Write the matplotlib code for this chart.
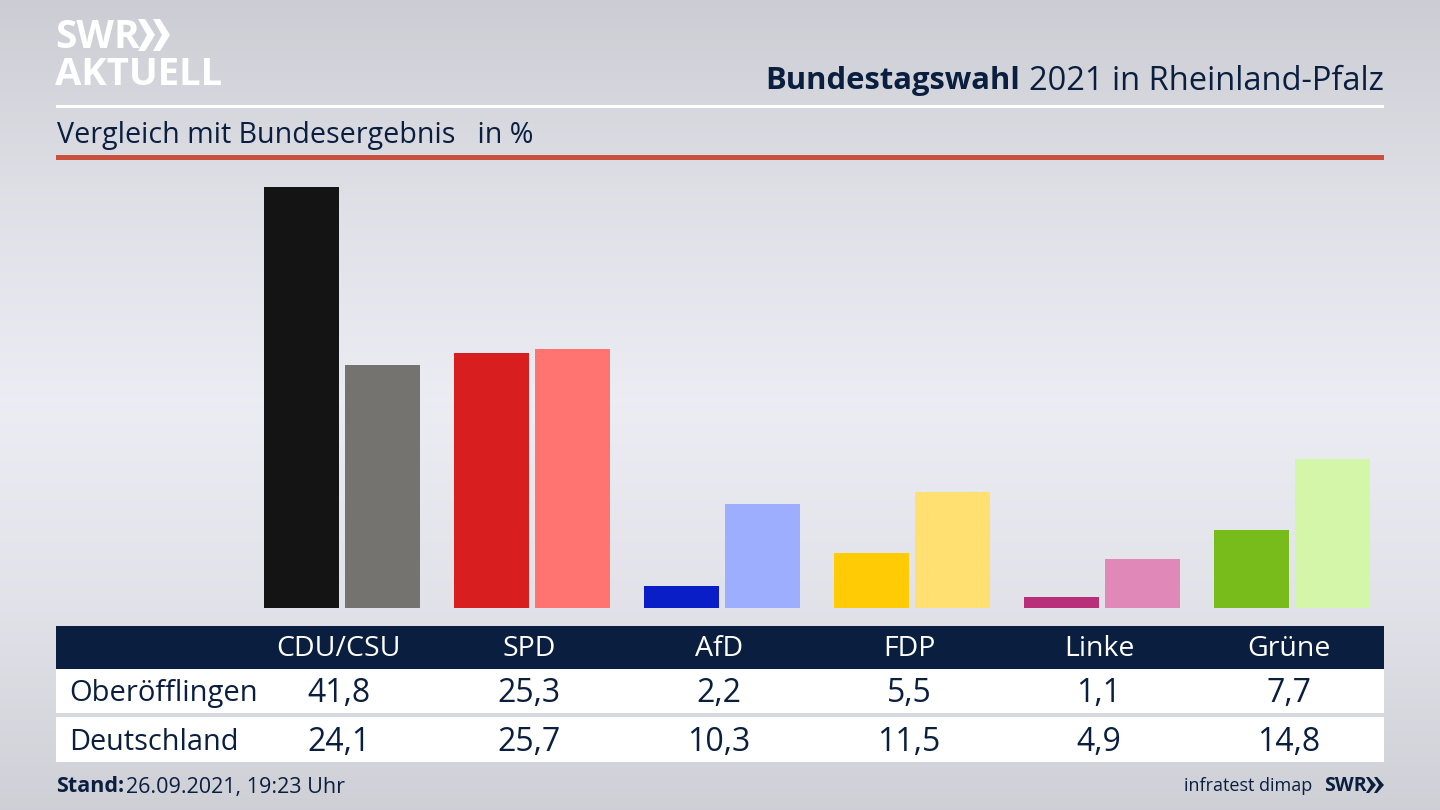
import numpy as np
import matplotlib
matplotlib.use("Agg")
import matplotlib.pyplot as plt
from matplotlib.patches import Polygon, Rectangle

plt.rcParams["font.family"] = ["Open Sans", "DejaVu Sans"]

parties = ["CDU/CSU", "SPD", "AfD", "FDP", "Linke", "Grüne"]
region_name = "Oberöfflingen"
country_name = "Deutschland"
region_values = [41.8, 25.3, 2.2, 5.5, 1.1, 7.7]
country_values = [24.1, 25.7, 10.3, 11.5, 4.9, 14.8]
region_colors = ["#141414", "#d81e1e", "#0a1ec8", "#ffcb05", "#b82e78", "#78bc1c"]
country_colors = ["#74736f", "#ff7470", "#9eaeff", "#ffe070", "#e088b8", "#d4f6a8"]

navy = "#0a1f3f"
W, H = 1440, 810

fig = plt.figure(figsize=(W / 100, H / 100), dpi=100)

# background + decorations in pixel coords
bg = fig.add_axes([0, 0, 1, 1])
bg.set_xlim(0, W)
bg.set_ylim(H, 0)
bg.axis("off")
stops_y = [0, 200, 400, 600, 810]
stops_v = [0.80, 0.875, 0.925, 0.885, 0.81]
grad = np.interp(np.arange(H), stops_y, stops_v).reshape(-1, 1)
rgb = np.dstack([grad, grad + 0.005, grad + 0.03])
bg.imshow(np.clip(rgb, 0, 1), extent=[0, W, H, 0], aspect="auto", zorder=0)

# logo
bg.text(55, 38, "SWR", color="white", fontsize=28, fontweight="bold", va="center", ha="left")
for x0 in [138, 153]:
    bg.add_patch(Polygon([[x0, 19], [x0 + 7, 19], [x0 + 17, 35], [x0 + 7, 51], [x0, 51], [x0 + 9, 35]],
                         closed=True, facecolor="white", linewidth=0, zorder=3))
bg.text(55, 75, "AKTUELL", color="white", fontsize=27.5, fontweight="bold", va="center", ha="left")

# header
bg.text(1384, 81, "2021 in Rheinland-Pfalz", color=navy, fontsize=23.5, va="center", ha="right")
bg.text(1020, 81, "Bundestagswahl", color=navy, fontsize=22.3, fontweight="bold", va="center", ha="right")
bg.add_patch(Rectangle((56, 104.5), 1328, 3, facecolor="white", linewidth=0, zorder=2))
bg.text(57, 135, "Vergleich mit Bundesergebnis   in %", color=navy, fontsize=20.6, va="center", ha="left")
bg.add_patch(Rectangle((56, 155), 1328, 5, facecolor="#c9503c", linewidth=0, zorder=2))

# bars
ax = fig.add_axes([56 / W, 1 - 608 / H, 1328 / W, (608 - 160) / H])
ax.patch.set_alpha(0)
px_group = 190.0
ax.set_xlim((56 - 339) / px_group, (1384 - 339) / px_group)
ax.set_ylim(0, 448 / 10.07)
ax.axis("off")
idx = np.arange(len(parties))
bw = 75 / px_group
ax.bar(idx - bw / 2, region_values, width=bw, color=region_colors)
ax.bar(idx + bw / 2 + 5.5 / px_group, country_values, width=bw, color=country_colors)

# table
bg.add_patch(Rectangle((56, 626), 1328, 42.5, facecolor=navy, linewidth=0, zorder=2))
bg.add_patch(Rectangle((56, 668.5), 1328, 44.5, facecolor="white", linewidth=0, zorder=2))
bg.add_patch(Rectangle((56, 717), 1328, 45, facecolor="white", linewidth=0, zorder=2))
bg.text(69, 693.5, region_name, color=navy, fontsize=21, va="center", ha="left", zorder=4)
bg.text(69, 742, country_name, color=navy, fontsize=20.8, va="center", ha="left", zorder=4)
for i, p in enumerate(parties):
    xc = 339 + i * px_group
    bg.text(xc, 649, p, color="white", fontsize=20.5, va="center", ha="center", zorder=4)
    bg.text(xc, 694, f"{region_values[i]:.1f}".replace(".", ","), color=navy, fontsize=23, va="center", ha="center", zorder=4)
    bg.text(xc, 742.5, f"{country_values[i]:.1f}".replace(".", ","), color=navy, fontsize=23, va="center", ha="center", zorder=4)

# footer
bg.text(56, 787, "Stand:", color=navy, fontsize=15.5, fontweight="bold", va="center", ha="left")
bg.text(126, 787, "26.09.2021, 19:23 Uhr", color=navy, fontsize=15.5, va="center", ha="left")
bg.text(1312, 786, "infratest dimap", color=navy, fontsize=13, va="center", ha="right")
bg.text(1324, 786, "SWR", color=navy, fontsize=14, fontweight="bold", va="center", ha="left")
for x0 in [1366, 1374]:
    bg.add_patch(Polygon([[x0, 777], [x0 + 3, 777], [x0 + 10, 785], [x0 + 3, 793], [x0, 793], [x0 + 5, 785]],
                         closed=True, facecolor=navy, linewidth=0, zorder=3))

fig.savefig("out.png", dpi=100)
